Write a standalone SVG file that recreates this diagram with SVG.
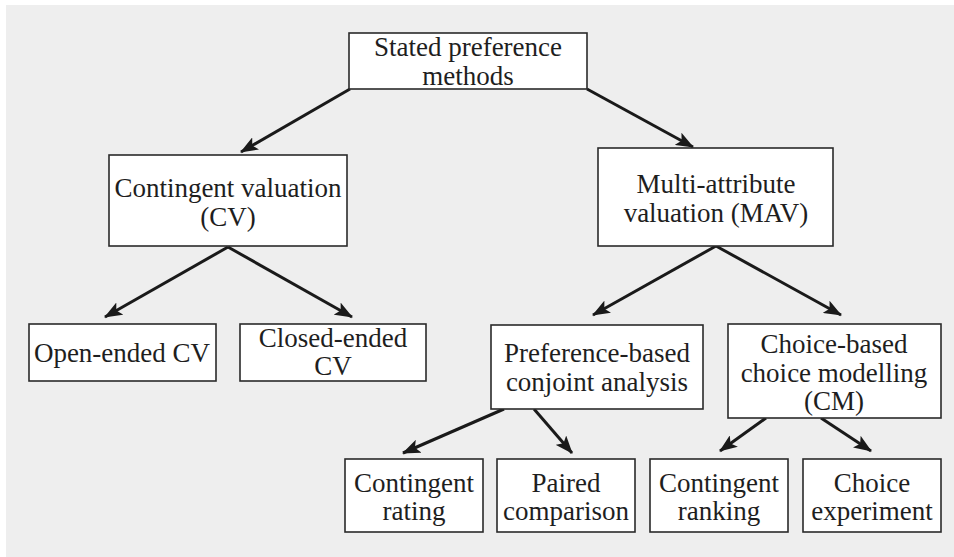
<svg xmlns="http://www.w3.org/2000/svg" width="954" height="557" viewBox="0 0 954 557">
<defs>
<marker id="ah" markerWidth="18" markerHeight="14" refX="17" refY="7" orient="auto" markerUnits="userSpaceOnUse">
<path d="M0,0 L18,7 L0,14 L4,7 Z" fill="#1a1a1a"/>
</marker>
<style>
.box{fill:#fff;stroke:#2a2a2a;stroke-width:1.6}
.t{font-family:Tinos,'Liberation Serif','Noto Serif','Times New Roman',Times,FreeSerif,'DejaVu Serif',serif;font-size:27px;fill:#1e1e1e;text-anchor:middle}
.c{stroke:#1a1a1a;stroke-width:3;fill:none;marker-end:url(#ah)}
</style>
</defs>
<rect x="0" y="0" width="954" height="557" fill="#ffffff"/>
<rect x="6" y="5" width="948" height="552" fill="#eeeeee"/>
<g id="connectors">
<line class="c" x1="350" y1="89" x2="241" y2="152"/>
<line class="c" x1="587" y1="89" x2="693" y2="147"/>
<line class="c" x1="228" y1="247" x2="105" y2="317"/>
<line class="c" x1="228" y1="247" x2="352" y2="317"/>
<line class="c" x1="716" y1="246" x2="593" y2="315"/>
<line class="c" x1="716" y1="246" x2="841" y2="315"/>
<line class="c" x1="504" y1="409" x2="403" y2="453"/>
<line class="c" x1="534" y1="409" x2="572" y2="453"/>
<line class="c" x1="766" y1="418" x2="720" y2="451"/>
<line class="c" x1="821" y1="418" x2="871" y2="451"/>
</g>
<g id="n-root">
<rect class="box" x="349" y="33" width="238" height="56"/>
<text class="t" x="468" y="56">Stated preference</text>
<text class="t" x="468" y="85">methods</text>
</g>
<g id="n-cv">
<rect class="box" x="109" y="155" width="238" height="91"/>
<text class="t" x="228" y="197">Contingent valuation</text>
<text class="t" x="228" y="226">(CV)</text>
</g>
<g id="n-mav">
<rect class="box" x="598" y="148" width="235" height="98"/>
<text class="t" x="716" y="193">Multi-attribute</text>
<text class="t" x="716" y="222">valuation (MAV)</text>
</g>
<g id="n-open">
<rect class="box" x="29" y="324" width="187" height="57"/>
<text class="t" x="122" y="362">Open-ended CV</text>
</g>
<g id="n-closed">
<rect class="box" x="240" y="324" width="186" height="57"/>
<text class="t" x="333" y="347">Closed-ended</text>
<text class="t" x="333" y="375">CV</text>
</g>
<g id="n-pref">
<rect class="box" x="491" y="325" width="212" height="84"/>
<text class="t" x="597" y="362">Preference-based</text>
<text class="t" x="597" y="391">conjoint analysis</text>
</g>
<g id="n-choice">
<rect class="box" x="728" y="324" width="213" height="94"/>
<text class="t" x="834" y="353">Choice-based</text>
<text class="t" x="834" y="382">choice modelling</text>
<text class="t" x="834" y="410">(CM)</text>
</g>
<g id="n-rating">
<rect class="box" x="345" y="459" width="138" height="73"/>
<text class="t" x="414" y="492">Contingent</text>
<text class="t" x="414" y="520">rating</text>
</g>
<g id="n-paired">
<rect class="box" x="497" y="459" width="138" height="73"/>
<text class="t" x="566" y="492">Paired</text>
<text class="t" x="566" y="520">comparison</text>
</g>
<g id="n-ranking">
<rect class="box" x="650" y="459" width="138" height="73"/>
<text class="t" x="719" y="492">Contingent</text>
<text class="t" x="719" y="520">ranking</text>
</g>
<g id="n-experiment">
<rect class="box" x="803" y="459" width="138" height="73"/>
<text class="t" x="872" y="492">Choice</text>
<text class="t" x="872" y="520">experiment</text>
</g>
</svg>
